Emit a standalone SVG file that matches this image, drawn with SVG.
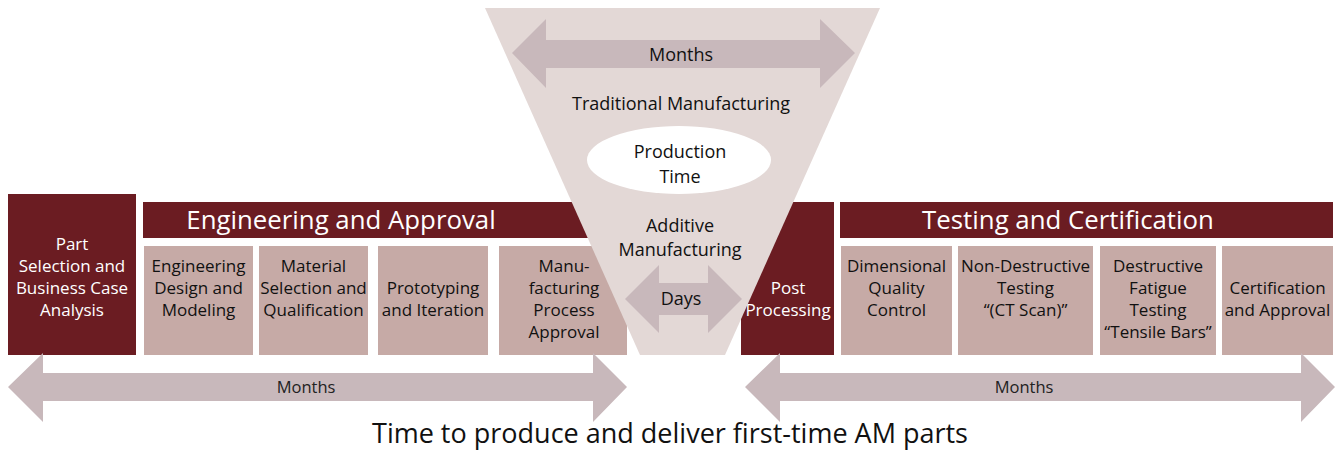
<svg xmlns="http://www.w3.org/2000/svg" width="1341" height="451" viewBox="0 0 1341 451">
<style>
.dark{fill:#6b1c22}
.light{fill:#c6aaa6}
.arrow{fill:#c8b8bb}
.funnel{fill:#e3d8d6}
text{font-family:"Open Sans","Noto Sans","Liberation Sans",sans-serif;text-anchor:middle}
.w{fill:#ffffff;font-size:17px}
.b{fill:#111111;font-size:17px}
.f{fill:#111111;font-size:18px}
.hdr{fill:#ffffff;font-size:25.8px}
.cap{fill:#111111;font-size:27px}
.sm{fill:#222222;font-size:16.5px}
</style>
<rect width="1341" height="451" fill="#ffffff"/>
<g id="part-selection">
<rect class="dark" x="8" y="194" width="128" height="161"/>
<text class="w" x="72" y="250">Part</text>
<text class="w" x="72" y="272">Selection and</text>
<text class="w" x="72" y="294">Business Case</text>
<text class="w" x="72" y="316">Analysis</text>
</g>
<g id="engineering-approval">
<rect class="dark" x="143" y="202" width="484" height="36"/>
<text class="hdr" x="341" y="229">Engineering and Approval</text>
</g>
<g id="engineering-design">
<rect class="light" x="144" y="246" width="109" height="109"/>
<text class="b" x="198.5" y="272">Engineering</text>
<text class="b" x="198.5" y="294">Design and</text>
<text class="b" x="198.5" y="316">Modeling</text>
</g>
<g id="material-selection">
<rect class="light" x="259" y="246" width="109" height="109"/>
<text class="b" x="313.5" y="272">Material</text>
<text class="b" x="313.5" y="294">Selection and</text>
<text class="b" x="313.5" y="316">Qualification</text>
</g>
<g id="prototyping">
<rect class="light" x="378" y="246" width="110" height="109"/>
<text class="b" x="433" y="294">Prototyping</text>
<text class="b" x="433" y="316">and Iteration</text>
</g>
<g id="manufacturing-approval">
<rect class="light" x="499" y="246" width="128" height="109"/>
<text class="b" x="564" y="272">Manu-</text>
<text class="b" x="564" y="294">facturing</text>
<text class="b" x="564" y="316">Process</text>
<text class="b" x="564" y="338">Approval</text>
</g>
<g id="post-processing">
<rect class="dark" x="741" y="202" width="93" height="153"/>
<text class="w" x="788" y="294">Post</text>
<text class="w" x="788" y="316">Processing</text>
</g>
<g id="production-funnel">
<polygon class="funnel" points="485,8 880,8 725,355 640,355"/>
<text class="f" x="681" y="110">Traditional Manufacturing</text>
<ellipse cx="679" cy="160" rx="92" ry="34" fill="#ffffff"/>
<text class="f" x="680" y="158">Production</text>
<text class="f" x="680" y="183">Time</text>
<text class="f" x="680" y="232">Additive</text>
<text class="f" x="680" y="256">Manufacturing</text>
</g>
<g id="testing-certification">
<rect class="dark" x="840" y="202" width="493" height="36"/>
<text class="hdr" x="1068" y="229">Testing and Certification</text>
</g>
<g id="dimensional">
<rect class="light" x="841" y="246" width="111" height="109"/>
<text class="b" x="896.5" y="272">Dimensional</text>
<text class="b" x="896.5" y="294">Quality</text>
<text class="b" x="896.5" y="316">Control</text>
</g>
<g id="non-destructive">
<rect class="light" x="958" y="246" width="135" height="109"/>
<text class="b" x="1025.5" y="272">Non-Destructive</text>
<text class="b" x="1025.5" y="294">Testing</text>
<text class="b" x="1025.5" y="316">“(CT Scan)”</text>
</g>
<g id="destructive">
<rect class="light" x="1100" y="246" width="116" height="109"/>
<text class="b" x="1158" y="272">Destructive</text>
<text class="b" x="1158" y="294">Fatigue</text>
<text class="b" x="1158" y="316">Testing</text>
<text class="b" x="1158" y="338">“Tensile Bars”</text>
</g>
<g id="certification">
<rect class="light" x="1222" y="246" width="111" height="109"/>
<text class="b" x="1277.5" y="294">Certification</text>
<text class="b" x="1277.5" y="316">and Approval</text>
</g>
<g id="connectors">
<polygon class="arrow" points="512,53 546,19 546,40 820,40 820,19 855,53 820,88 820,68 546,68 546,88"/>
<text class="f" x="681" y="61">Months</text>
<polygon class="arrow" points="625,299 659,265 659,283 708,283 708,265 742,299 708,333 708,315 659,315 659,333"/>
<text class="f" x="681" y="305">Days</text>
<polygon class="arrow" points="8,387 43,353 43,373 593,373 593,353 627,387 593,422 593,401 43,401 43,422"/>
<text class="sm" x="306" y="393">Months</text>
<polygon class="arrow" points="745,387 780,353 780,373 1301,373 1301,353 1335,387 1301,422 1301,401 780,401 780,422"/>
<text class="sm" x="1024" y="393">Months</text>
</g>
<text class="cap" x="670" y="443">Time to produce and deliver first-time AM parts</text>
</svg>
